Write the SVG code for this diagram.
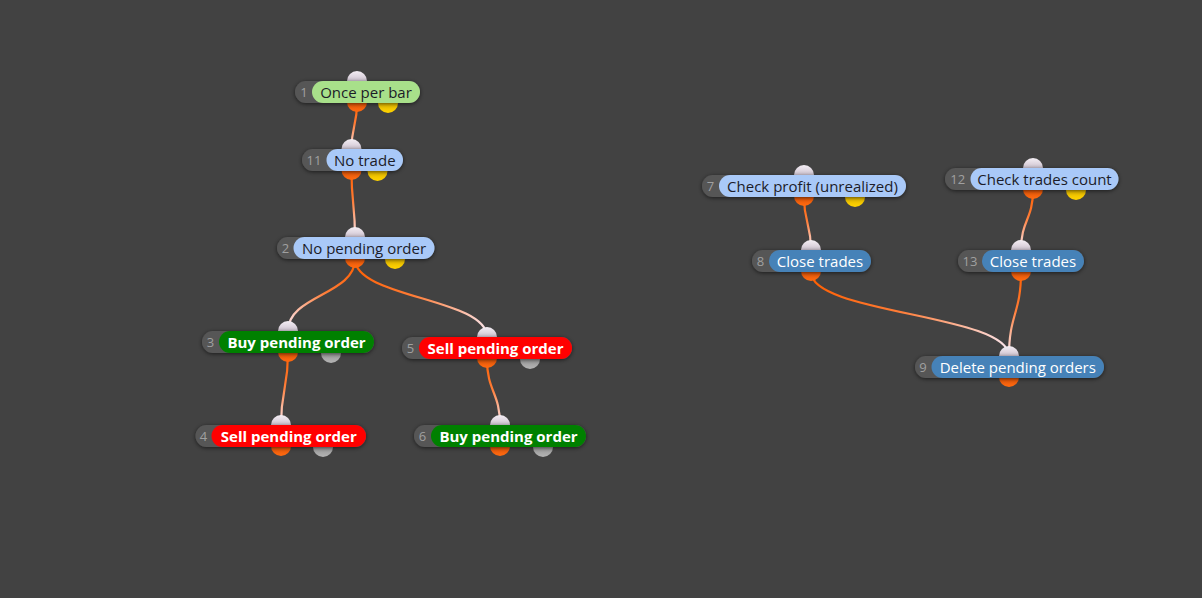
<svg xmlns="http://www.w3.org/2000/svg" width="1202" height="598" viewBox="0 0 1202 598">
<style>
.bg{fill:#424242}
.base{fill:#575757;filter:url(#sh)}
.num{font-family:"Open Sans","Noto Sans",sans-serif;font-size:13px;fill:#a0a0a0;text-anchor:middle}
.lbl{font-family:"Open Sans","Noto Sans",sans-serif;font-size:15px;text-anchor:middle}
.dark{fill:#1c1c28}
.white{fill:#ffffff}
.bold{font-weight:bold}
.lg{fill:#a8e08a}
.lb{fill:#a9c9f8}
.sb{fill:#4682b8}
.gr{fill:#008000}
.rd{fill:#ff0000}
.in{fill:url(#gin)}
.out{fill:url(#gout)}
.yel{fill:url(#gyel)}
.gry{fill:url(#ggry)}
.edge{fill:none;stroke-width:2.2}
.s0{stop-color:#ff5e00}
.s1{stop-color:#ff7c36}
.s2{stop-color:#fbe9f2}
</style>
<defs>
<filter id="sh" x="-20%" y="-60%" width="140%" height="220%">
<feDropShadow dx="0" dy="1" stdDeviation="2" flood-color="#000" flood-opacity="0.6"/>
</filter>
<linearGradient id="gin" x1="0" y1="0" x2="0" y2="1"><stop offset="0" stop-color="#f4eef4"/><stop offset="1" stop-color="#a898ac"/></linearGradient>
<linearGradient id="gout" x1="0" y1="0" x2="0" y2="1"><stop offset="0" stop-color="#c84000"/><stop offset="1" stop-color="#ff6a10"/></linearGradient>
<linearGradient id="gyel" x1="0" y1="0" x2="0" y2="1"><stop offset="0" stop-color="#c89a00"/><stop offset="1" stop-color="#ffd400"/></linearGradient>
<linearGradient id="ggry" x1="0" y1="0" x2="0" y2="1"><stop offset="0" stop-color="#7c7c7c"/><stop offset="1" stop-color="#b4b4b4"/></linearGradient>
<linearGradient id="e1" gradientUnits="userSpaceOnUse" x1="357" y1="103" x2="351.5" y2="149"><stop offset="0" class="s0"/><stop offset="0.45" class="s1"/><stop offset="1" class="s2"/></linearGradient>
<linearGradient id="e2" gradientUnits="userSpaceOnUse" x1="351.5" y1="171" x2="355" y2="237"><stop offset="0" class="s0"/><stop offset="0.45" class="s1"/><stop offset="1" class="s2"/></linearGradient>
<linearGradient id="e3" gradientUnits="userSpaceOnUse" x1="355" y1="259" x2="288" y2="331"><stop offset="0" class="s0"/><stop offset="0.45" class="s1"/><stop offset="1" class="s2"/></linearGradient>
<linearGradient id="e4" gradientUnits="userSpaceOnUse" x1="355" y1="259" x2="487" y2="337"><stop offset="0" class="s0"/><stop offset="0.45" class="s1"/><stop offset="1" class="s2"/></linearGradient>
<linearGradient id="e5" gradientUnits="userSpaceOnUse" x1="288" y1="353" x2="281" y2="425"><stop offset="0" class="s0"/><stop offset="0.45" class="s1"/><stop offset="1" class="s2"/></linearGradient>
<linearGradient id="e6" gradientUnits="userSpaceOnUse" x1="487" y1="359" x2="500" y2="425"><stop offset="0" class="s0"/><stop offset="0.45" class="s1"/><stop offset="1" class="s2"/></linearGradient>
<linearGradient id="e7" gradientUnits="userSpaceOnUse" x1="804" y1="197" x2="811" y2="250"><stop offset="0" class="s0"/><stop offset="0.45" class="s1"/><stop offset="1" class="s2"/></linearGradient>
<linearGradient id="e8" gradientUnits="userSpaceOnUse" x1="1033" y1="190" x2="1021" y2="250"><stop offset="0" class="s0"/><stop offset="0.45" class="s1"/><stop offset="1" class="s2"/></linearGradient>
<linearGradient id="e9" gradientUnits="userSpaceOnUse" x1="811" y1="272" x2="1009" y2="356"><stop offset="0" class="s0"/><stop offset="0.45" class="s1"/><stop offset="1" class="s2"/></linearGradient>
<linearGradient id="e10" gradientUnits="userSpaceOnUse" x1="1021" y1="272" x2="1009" y2="356"><stop offset="0" class="s0"/><stop offset="0.45" class="s1"/><stop offset="1" class="s2"/></linearGradient>
</defs>
<rect class="bg" x="0" y="0" width="1202" height="598"/>
<g id="connectors">
<path class="edge" stroke="url(#e1)" d="M357 103 C357 126 351.5 126 351.5 149"/>
<path class="edge" stroke="url(#e2)" d="M351.5 171 C351.5 204 355 204 355 237"/>
<path class="edge" stroke="url(#e3)" d="M355 259 C355 295 288 295 288 331"/>
<path class="edge" stroke="url(#e4)" d="M355 259 C355 298 487 298 487 337"/>
<path class="edge" stroke="url(#e5)" d="M288 353 C288 389 281 389 281 425"/>
<path class="edge" stroke="url(#e6)" d="M487 359 C487 392 500 392 500 425"/>
<path class="edge" stroke="url(#e7)" d="M804 197 C804 223 811 223 811 250"/>
<path class="edge" stroke="url(#e8)" d="M1033 190 C1033 220 1021 220 1021 250"/>
<path class="edge" stroke="url(#e9)" d="M811 272 C811 314 1009 314 1009 356"/>
<path class="edge" stroke="url(#e10)" d="M1021 272 C1021 314 1009 314 1009 356"/>
</g>
<g id="node1">
<circle class="in" cx="357" cy="81" r="10"/><circle class="out" cx="357" cy="102" r="10"/><circle class="yel" cx="388" cy="103" r="10"/>
<rect class="base" x="295" y="81" width="125" height="22" rx="11"/>
<rect class="lg" x="312" y="81" width="108" height="22" rx="11"/>
<text class="num" x="304" y="96.5">1</text><text class="lbl dark" x="366" y="97.5">Once per bar</text>
</g>
<g id="node11">
<circle class="in" cx="351.5" cy="149" r="10"/><circle class="out" cx="351.5" cy="170" r="10"/><circle class="yel" cx="377.5" cy="171" r="10"/>
<rect class="base" x="302" y="149" width="101" height="22" rx="11"/>
<rect class="lb" x="326.5" y="149" width="76.5" height="22" rx="11"/>
<text class="num" x="314" y="164.5">11</text><text class="lbl dark" x="364.75" y="165.5">No trade</text>
</g>
<g id="node2">
<circle class="in" cx="355" cy="237" r="10"/><circle class="out" cx="355" cy="258" r="10"/><circle class="yel" cx="395" cy="259" r="10"/>
<rect class="base" x="277" y="237" width="157.5" height="22" rx="11"/>
<rect class="lb" x="293.5" y="237" width="141" height="22" rx="11"/>
<text class="num" x="285.5" y="252.5">2</text><text class="lbl dark" x="364" y="253.5">No pending order</text>
</g>
<g id="node3">
<circle class="in" cx="288" cy="331" r="10"/><circle class="out" cx="288" cy="352" r="10"/><circle class="gry" cx="331" cy="353" r="10"/>
<rect class="base" x="202" y="331" width="172" height="22" rx="11"/>
<rect class="gr" x="219" y="331" width="155" height="22" rx="11"/>
<text class="num" x="210.5" y="346.5">3</text><text class="lbl white bold" x="296.5" y="347.5">Buy pending order</text>
</g>
<g id="node4">
<circle class="in" cx="281" cy="425" r="10"/><circle class="out" cx="281" cy="446" r="10"/><circle class="gry" cx="323" cy="447" r="10"/>
<rect class="base" x="195.5" y="425" width="170.5" height="22" rx="11"/>
<rect class="rd" x="211.5" y="425" width="154.5" height="22" rx="11"/>
<text class="num" x="203.5" y="440.5">4</text><text class="lbl white bold" x="288.75" y="441.5">Sell pending order</text>
</g>
<g id="node5">
<circle class="in" cx="487" cy="337" r="10"/><circle class="out" cx="487" cy="358" r="10"/><circle class="gry" cx="530" cy="359" r="10"/>
<rect class="base" x="402" y="337" width="170" height="22" rx="11"/>
<rect class="rd" x="419" y="337" width="153" height="22" rx="11"/>
<text class="num" x="410.5" y="352.5">5</text><text class="lbl white bold" x="495.5" y="353.5">Sell pending order</text>
</g>
<g id="node6">
<circle class="in" cx="500" cy="425" r="10"/><circle class="out" cx="500" cy="446" r="10"/><circle class="gry" cx="543" cy="447" r="10"/>
<rect class="base" x="414" y="425" width="172" height="22" rx="11"/>
<rect class="gr" x="431" y="425" width="155" height="22" rx="11"/>
<text class="num" x="422.5" y="440.5">6</text><text class="lbl white bold" x="508.5" y="441.5">Buy pending order</text>
</g>
<g id="node7">
<circle class="in" cx="804" cy="175" r="10"/><circle class="out" cx="804" cy="196" r="10"/><circle class="yel" cx="855" cy="197" r="10"/>
<rect class="base" x="702" y="175" width="204" height="22" rx="11"/>
<rect class="lb" x="719" y="175" width="187" height="22" rx="11"/>
<text class="num" x="710.5" y="190.5">7</text><text class="lbl dark" x="812.5" y="191.5">Check profit (unrealized)</text>
</g>
<g id="node8">
<circle class="in" cx="811" cy="250" r="10"/><circle class="out" cx="811" cy="271" r="10"/>
<rect class="base" x="752" y="250" width="119" height="22" rx="11"/>
<rect class="sb" x="769" y="250" width="102" height="22" rx="11"/>
<text class="num" x="760.5" y="265.5">8</text><text class="lbl white" x="820" y="266.5">Close trades</text>
</g>
<g id="node12">
<circle class="in" cx="1033" cy="168" r="10"/><circle class="out" cx="1033" cy="189" r="10"/><circle class="yel" cx="1076" cy="190" r="10"/>
<rect class="base" x="945" y="168" width="173.5" height="22" rx="11"/>
<rect class="lb" x="970.5" y="168" width="148" height="22" rx="11"/>
<text class="num" x="957.75" y="183.5">12</text><text class="lbl dark" x="1044.5" y="184.5">Check trades count</text>
</g>
<g id="node13">
<circle class="in" cx="1021" cy="250" r="10"/><circle class="out" cx="1021" cy="271" r="10"/>
<rect class="base" x="958" y="250" width="126" height="22" rx="11"/>
<rect class="sb" x="982" y="250" width="102" height="22" rx="11"/>
<text class="num" x="970" y="265.5">13</text><text class="lbl white" x="1033" y="266.5">Close trades</text>
</g>
<g id="node9">
<circle class="in" cx="1009" cy="356" r="10"/><circle class="out" cx="1009" cy="377" r="10"/>
<rect class="base" x="915" y="356" width="189" height="22" rx="11"/>
<rect class="sb" x="931.5" y="356" width="172.5" height="22" rx="11"/>
<text class="num" x="923" y="371.5">9</text><text class="lbl white" x="1017.75" y="372.5">Delete pending orders</text>
</g>
</svg>
